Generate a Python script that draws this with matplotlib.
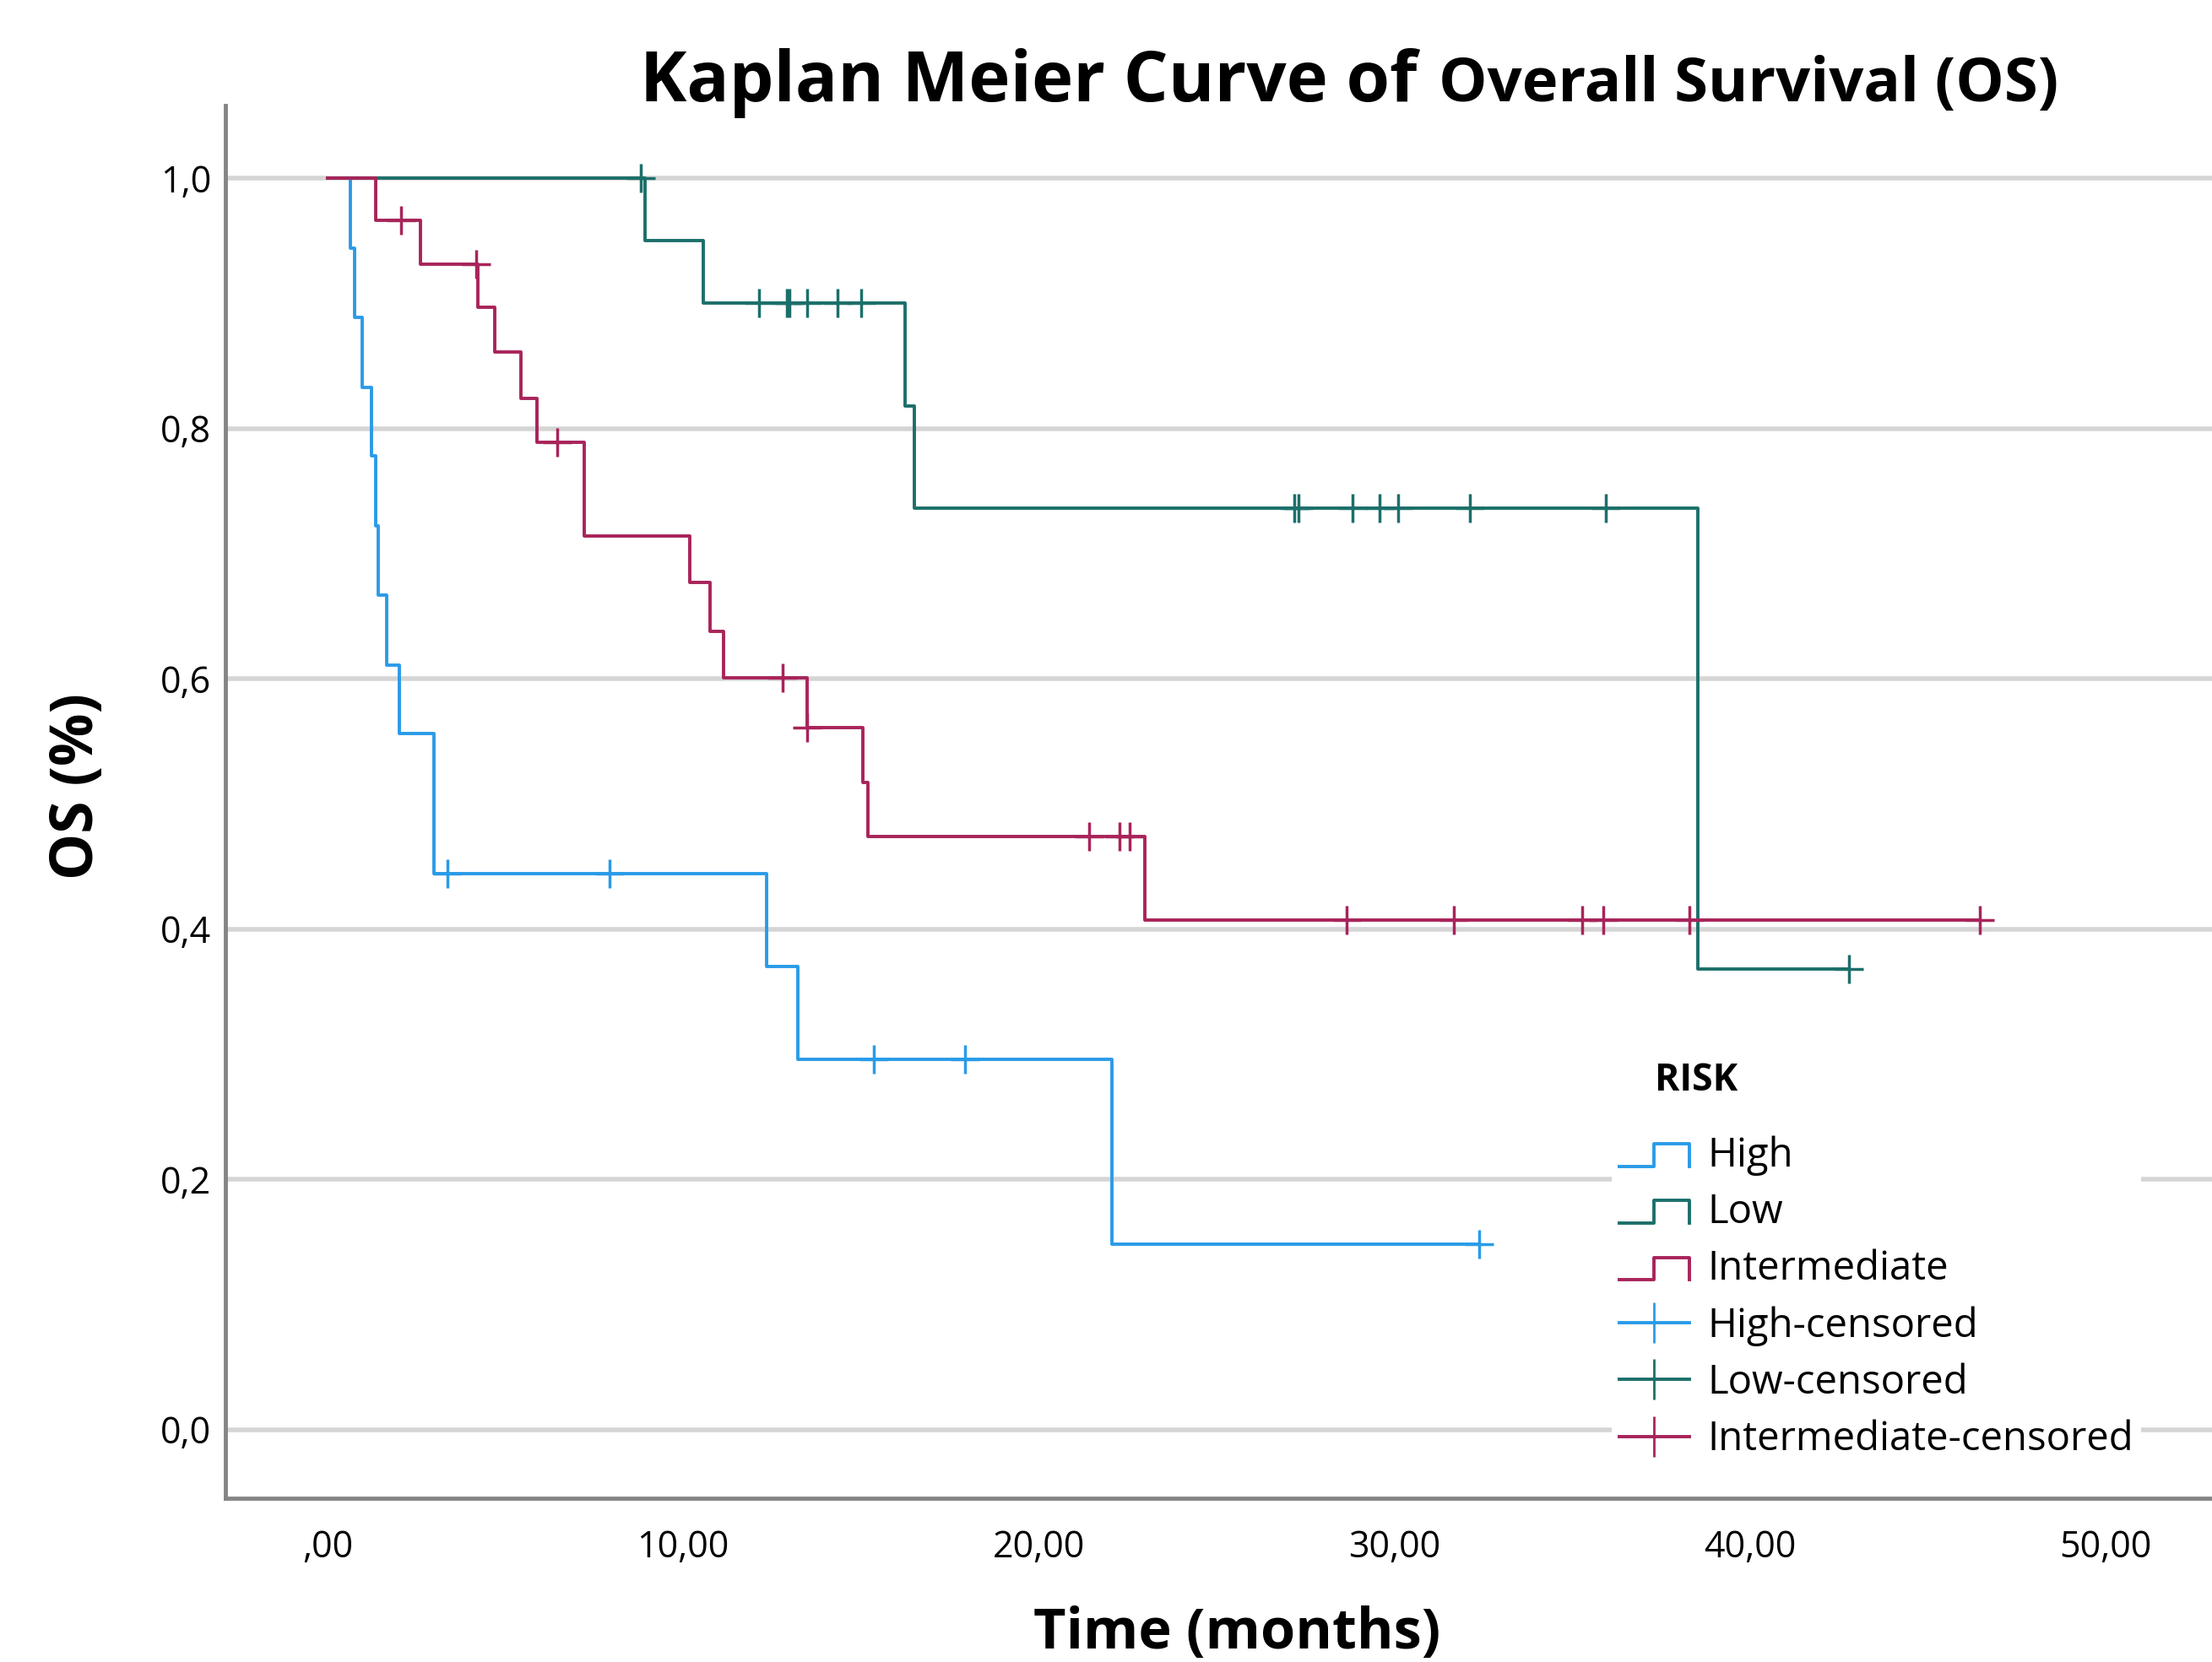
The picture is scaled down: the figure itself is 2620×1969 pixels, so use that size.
import numpy as np
import matplotlib
matplotlib.use('Agg')
import matplotlib.pyplot as plt
from matplotlib.lines import Line2D
from matplotlib.legend_handler import HandlerBase

plt.rcParams['font.family'] = ['Open Sans', 'DejaVu Sans']

# step points (time in months, survival)
high_times = [0, 0.64, 0.77, 0.97, 1.24, 1.36, 1.43, 1.67, 2.03, 3.0, 12.36, 13.23, 22.05]
high_surv = [1.0, 0.944, 0.889, 0.833, 0.778, 0.722, 0.667, 0.611, 0.556, 0.444, 0.370, 0.296, 0.148]
high_censor = [3.37, 7.93, 15.37, 17.94, 32.4]

low_times = [0, 8.93, 10.57, 16.25, 16.51, 38.55]
low_surv = [1.0, 0.95, 0.90, 0.818, 0.736, 0.368]
low_censor = [8.81, 12.14, 12.91, 12.98, 13.49, 14.34, 15.02, 27.2, 27.32,
              28.82, 29.6, 30.1, 32.13, 35.96, 42.8]

inter_times = [0, 1.36, 2.62, 4.24, 4.70, 5.43, 5.90, 7.22, 10.18, 10.76, 11.15,
               13.49, 15.05, 15.2, 22.99]
inter_surv = [1.0, 0.966, 0.931, 0.897, 0.861, 0.824, 0.789, 0.714, 0.677, 0.638,
              0.601, 0.561, 0.517, 0.474, 0.407]
inter_censor = [2.06, 4.19, 6.47, 12.8, 13.49, 21.41, 22.27, 22.55, 28.67, 31.67,
                35.28, 35.87, 38.3, 46.47]

groups = ['High', 'Low', 'Intermediate']
colors = {'High': '#2a9be8', 'Low': '#1c6f6a', 'Intermediate': '#a8245a'}

x_ticks = [0, 10, 20, 30, 40, 50]
x_tick_labels = [',00', '10,00', '20,00', '30,00', '40,00', '50,00']
y_ticks = [0.0, 0.2, 0.4, 0.6, 0.8, 1.0]
y_tick_labels = ['0,0', '0,2', '0,4', '0,6', '0,8', '1,0']


# legend symbol for the curves: a little step like SPSS draws
class StepHandler(HandlerBase):
    def create_artists(self, legend, orig_handle, xdescent, ydescent,
                       width, height, fontsize, trans):
        x0, y0 = -xdescent, -ydescent
        xs = [x0, x0 + 0.5 * width, x0 + 0.5 * width, x0 + width, x0 + width]
        ys = [y0, y0, y0 + 0.8 * height, y0 + 0.8 * height, y0]
        line = Line2D(xs, ys, color=orig_handle.get_color(),
                      lw=orig_handle.get_linewidth(), transform=trans)
        return [line]


def draw_curve(ax, times, surv, censor, color):
    t = list(times) + [max(censor)]
    s = list(surv) + [surv[-1]]
    ax.step(t, s, where='post', color=color, lw=2.8, zorder=3)
    idx = np.searchsorted(times, censor, side='right') - 1
    cy = np.array(surv)[idx]
    ax.plot(censor, cy, linestyle='none', marker='+', markersize=24,
            mew=2.5, color=color, zorder=4)


fig = plt.figure(figsize=(26.2, 19.69), dpi=100)
ax = fig.add_axes([0.1019, 0.0985, 0.8981, 0.838])

draw_curve(ax, high_times, high_surv, high_censor, colors['High'])
draw_curve(ax, low_times, low_surv, low_censor, colors['Low'])
draw_curve(ax, inter_times, inter_surv, inter_censor, colors['Intermediate'])

ax.set_xlim(-2.87, 53.0)
ax.set_ylim(-0.055, 1.058)
ax.set_xticks(x_ticks)
ax.set_xticklabels(x_tick_labels)
ax.set_yticks(y_ticks)
ax.set_yticklabels(y_tick_labels)
ax.tick_params(axis='x', length=0, pad=26, labelsize=31)
ax.tick_params(axis='y', length=0, pad=12, labelsize=31)
ax.yaxis.grid(True, color='#d5d5d5', lw=4, zorder=0)
ax.set_axisbelow(True)

for side in ['top', 'right']:
    ax.spines[side].set_visible(False)
for side in ['left', 'bottom']:
    ax.spines[side].set_color('#858585')
    ax.spines[side].set_linewidth(3.5)

ax.set_xlabel('Time (months)', fontsize=48, fontweight='bold')
ax.xaxis.set_label_coords(0.509, -0.097)
ax.xaxis.label.set_va('center')
ax.set_ylabel('OS (%)', fontsize=50, fontweight='bold')
ax.yaxis.set_label_coords(-0.0744, 0.511)
ax.yaxis.label.set_va('center')

# title in two sizes like the original
fig.text(0.6405, 0.939, 'Kaplan Meier Curve of', fontsize=60, fontweight='bold',
         ha='right', va='baseline')
fig.text(0.6505, 0.939, 'Overall Survival (OS)', fontsize=52, fontweight='bold',
         ha='left', va='baseline')

handles = [Line2D([], [], color=colors[g], lw=2.8) for g in groups]
handles += [Line2D([], [], color=colors[g], lw=2.8, marker='|', markersize=34, mew=2)
            for g in groups]
labels = groups + [g + '-censored' for g in groups]
hmap = {h: StepHandler() for h in handles[:3]}
leg = ax.legend(handles, labels, handler_map=hmap, loc='upper left',
                bbox_to_anchor=(1885 / 2620, 1 - 1312 / 1969),
                bbox_transform=fig.transFigure, fontsize=34, frameon=True,
                facecolor='white', edgecolor='none', framealpha=1,
                fancybox=False, borderpad=0.2, handlelength=1.75,
                handletextpad=0.45, labelspacing=0.42)
leg.set_zorder(5)

fig.text(1960 / 2620, 1 - 1280 / 1969, 'RISK', fontsize=32, fontweight='bold',
         ha='left', va='center')

fig.savefig('out.png', dpi=100, facecolor='white')
